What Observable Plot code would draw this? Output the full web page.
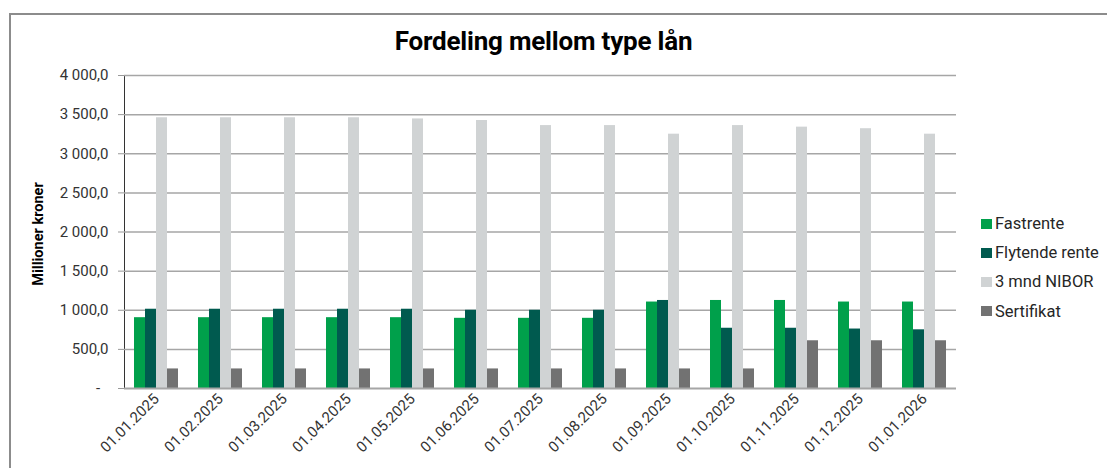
<!DOCTYPE html>
<html><head><meta charset="utf-8">
<script src="https://cdn.jsdelivr.net/npm/d3@7"></script>
<script src="https://cdn.jsdelivr.net/npm/@observablehq/plot@0.6"></script>
<style>
body{margin:0;background:#fff;font-family:Roboto,sans-serif;}
#wrap{position:relative;width:1107px;height:468px;overflow:hidden;background:#fff;}
#frame{position:absolute;left:9px;top:13px;width:1200px;height:600px;border-left:2px solid #8c8c8c;border-top:2px solid #8c8c8c;}
#title{position:absolute;left:0;width:1087px;top:26px;text-align:center;font-weight:700;font-size:26px;color:#000;letter-spacing:-0.2px;}
#ylab{position:absolute;left:38px;top:234px;transform:translate(-50%,-50%) rotate(-90deg);font-weight:700;font-size:14.5px;white-space:nowrap;color:#000;}
#legend{position:absolute;left:981px;top:209px;}
.item{display:flex;align-items:center;height:29.2px;font-size:16.5px;color:#262626;white-space:nowrap;}
.sw{width:11px;height:10px;margin-right:3px;}
#chart{position:absolute;left:0;top:60px;}
</style>
</head><body>
<div id="wrap">
  <div id="frame"></div>
  <div id="title">Fordeling mellom type lån</div>
  <div id="ylab">Millioner kroner</div>
  <div id="chart"></div>
  <div id="legend"></div>
</div>
<script>
const dates = ["01.01.2025","01.02.2025","01.03.2025","01.04.2025","01.05.2025","01.06.2025","01.07.2025","01.08.2025","01.09.2025","01.10.2025","01.11.2025","01.12.2025","01.01.2026"];
const series = ["Fastrente","Flytende rente","3 mnd NIBOR","Sertifikat"];
const fastrente = [905,905,905,905,905,897,897,897,1105,1125,1125,1105,1105];
const flytende = [1013,1013,1013,1013,1013,1000,1000,1000,1125,770,770,760,750];
const nibor = [3460,3460,3460,3460,3445,3425,3360,3360,3250,3360,3340,3320,3250];
const sertifikat = [250,250,250,250,250,250,250,250,250,250,610,610,610];
const colors = ["#00A04B","#005A4F","#D0D3D4","#727272"];
const yTicks = [0,500,1000,1500,2000,2500,3000,3500,4000];

const valuesBySeries = [fastrente, flytende, nibor, sertifikat];
const table = dates.flatMap((d, i) => series.map((s, j) => ({date: d, series: s, value: valuesBySeries[j][i]})));

const loc = d3.formatLocale({decimal: ",", thousands: " ", grouping: [3], currency: ["", ""]});
const fmt = loc.format(",.1f");
const tickFormat = v => v === 0 ? "-\u2007" : fmt(v);

const chart = Plot.plot({
  width: 970, height: 408,
  marginLeft: 122, marginRight: 13, marginTop: 15, marginBottom: 80,
  style: {fontFamily: "Roboto, sans-serif", fontSize: "15px", color: "#333", background: "transparent"},
  facet: {data: table, x: "date"},
  fx: {domain: dates, padding: 0, label: null, tickRotate: -45, tickSize: 0, tickPadding: 8},
  x: {domain: series, paddingInner: 0, paddingOuter: 0.7, axis: null},
  y: {domain: [0, 4000], ticks: yTicks, tickFormat, tickSize: 6, tickPadding: 10, label: null, line: true},
  color: {domain: series, range: colors},
  marks: [
    Plot.ruleY(yTicks.slice(1), {stroke: "#a6a6a6", strokeWidth: 1.5}),
    Plot.barY(table, {x: "series", y: "value", fill: "series"}),
    Plot.ruleY([0], {stroke: "#a6a6a6", strokeWidth: 2})
  ]
});
chart.querySelectorAll('[aria-label^="y-axis"] path, [aria-label^="y-axis"] line').forEach(p => {
  p.setAttribute("stroke", "#999");
  p.style.stroke = "#999";
});
document.getElementById("chart").appendChild(chart);

const legend = document.getElementById("legend");
series.forEach((s, j) => {
  const it = document.createElement("div");
  it.className = "item";
  it.innerHTML = `<span class="sw" style="background:${colors[j]}"></span><span>${s}</span>`;
  legend.appendChild(it);
});
</script>
</body></html>
